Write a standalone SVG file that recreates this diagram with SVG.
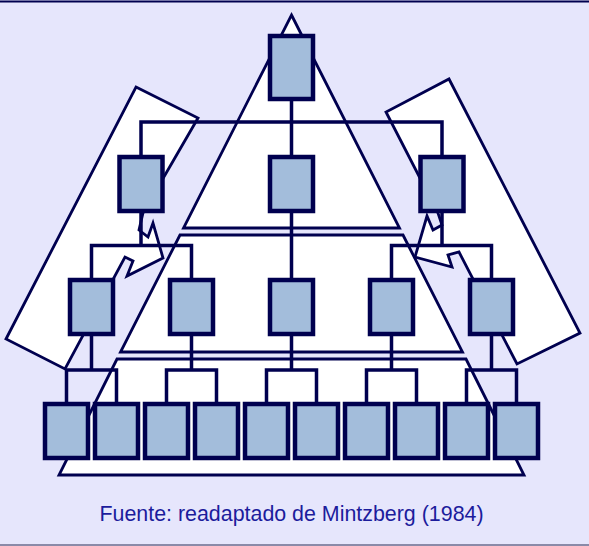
<svg xmlns="http://www.w3.org/2000/svg" width="589" height="546" viewBox="0 0 589 546">
  <style>
    .zone { fill: #ffffff; stroke: #00004f; stroke-width: 2.8; stroke-linejoin: miter; }
    .box { fill: #a3bddb; stroke: #00004f; stroke-width: 4.5; }
    .link { fill: none; stroke: #00004f; stroke-width: 3.5; stroke-linecap: butt; }
    .caption { font-family: "Liberation Sans", Arial, sans-serif; font-size: 21.4px; fill: #1c1c9c; }
  </style>

  <!-- background and frame lines -->
  <rect x="0" y="0" width="589" height="546" fill="#e6e6fc"/>
  <line x1="0" y1="1.5" x2="589" y2="1.5" stroke="#00004f" stroke-width="2"/>
  <line x1="0" y1="545" x2="589" y2="545" stroke="#8a8aa8" stroke-width="2"/>

  <!-- zones of the organisation -->
  <g id="zones">
    <polygon id="apex-zone" class="zone" points="291.5,15 399.5,228 183.5,228"/>
    <polygon id="middle-zone" class="zone" points="180,235 403,235 462.5,352 120.5,352"/>
    <polygon id="core-zone" class="zone" points="117,359 466,359 524,475 59,475"/>
    <polygon id="left-staff" class="zone" points="136,87 198,118 143,213 139,230 148,237 153,223 163,258 127,276 133,261 125,257 65,369 6,339"/>
    <polygon id="right-staff" class="zone" points="449,79 580,333 517,364 459,252 448,255 452,267 415,257 427,216 433,230 442,225 438,213 386,112"/>
  </g>

  <!-- reporting lines -->
  <g id="connectors" class="link">
    <line x1="291.5" y1="99" x2="291.5" y2="370"/>
    <polyline points="141,155 141,122 442,122 442,155"/>
    <line x1="141" y1="211" x2="141" y2="245.5"/>
    <polyline points="91.5,278 91.5,245.5 191.5,245.5 191.5,278"/>
    <line x1="442" y1="211" x2="442" y2="245.5"/>
    <polyline points="391.5,278 391.5,245.5 491.5,245.5 491.5,278"/>
    <line x1="91.5" y1="334" x2="91.5" y2="370"/>
    <line x1="191.5" y1="334" x2="191.5" y2="370"/>
    <line x1="391.5" y1="334" x2="391.5" y2="370"/>
    <line x1="491.5" y1="334" x2="491.5" y2="370"/>
    <polyline points="66.5,402 66.5,370 116.5,370 116.5,402"/>
    <polyline points="166.5,402 166.5,370 216.5,370 216.5,402"/>
    <polyline points="266.5,402 266.5,370 316.5,370 316.5,402"/>
    <polyline points="366.5,402 366.5,370 416.5,370 416.5,402"/>
    <polyline points="466.5,402 466.5,370 516.5,370 516.5,402"/>
  </g>

  <!-- positions -->
  <g id="n-top"><rect class="box" x="270" y="36" width="43" height="63"/></g>

  <g id="n-l2-left"><rect class="box" x="119.5" y="157" width="43" height="54"/></g>
  <g id="n-l2-mid"><rect class="box" x="270" y="157" width="43" height="54"/></g>
  <g id="n-l2-right"><rect class="box" x="420.5" y="157" width="43" height="54"/></g>

  <g id="n-l3-1"><rect class="box" x="70" y="280" width="43" height="54"/></g>
  <g id="n-l3-2"><rect class="box" x="170" y="280" width="43" height="54"/></g>
  <g id="n-l3-3"><rect class="box" x="270" y="280" width="43" height="54"/></g>
  <g id="n-l3-4"><rect class="box" x="370" y="280" width="43" height="54"/></g>
  <g id="n-l3-5"><rect class="box" x="470" y="280" width="43" height="54"/></g>

  <g id="n-b1"><rect class="box" x="45" y="404" width="43" height="54"/></g>
  <g id="n-b2"><rect class="box" x="95" y="404" width="43" height="54"/></g>
  <g id="n-b3"><rect class="box" x="145" y="404" width="43" height="54"/></g>
  <g id="n-b4"><rect class="box" x="195" y="404" width="43" height="54"/></g>
  <g id="n-b5"><rect class="box" x="245" y="404" width="43" height="54"/></g>
  <g id="n-b6"><rect class="box" x="295" y="404" width="43" height="54"/></g>
  <g id="n-b7"><rect class="box" x="345" y="404" width="43" height="54"/></g>
  <g id="n-b8"><rect class="box" x="395" y="404" width="43" height="54"/></g>
  <g id="n-b9"><rect class="box" x="445" y="404" width="43" height="54"/></g>
  <g id="n-b10"><rect class="box" x="495" y="404" width="43" height="54"/></g>

  <text class="caption" x="291.5" y="521" text-anchor="middle">Fuente: readaptado de Mintzberg (1984)</text>
</svg>
